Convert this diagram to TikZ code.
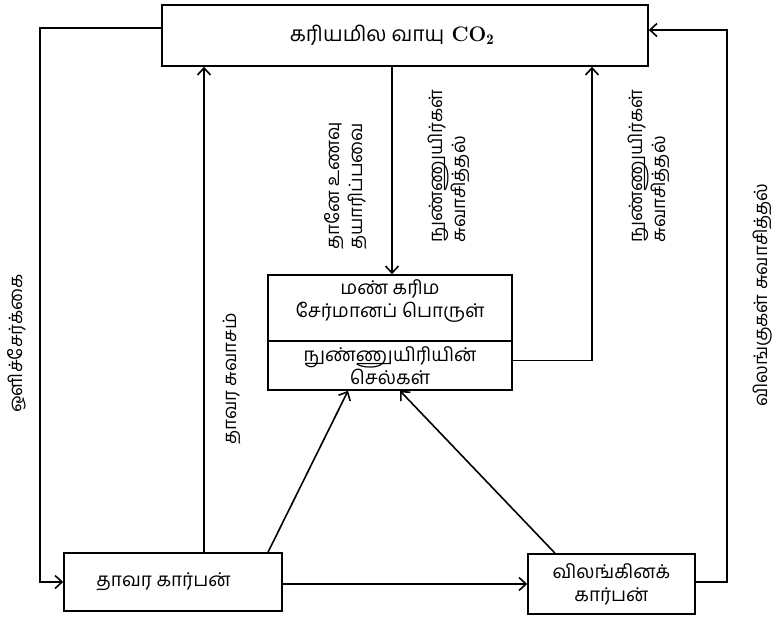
\documentclass[tikz,border=0pt]{standalone}
\usepackage{fontspec}
\newfontfamily\ta[Script=Tamil]{Hind Madurai}
\usetikzlibrary{arrows.meta}
\begin{document}
\begin{tikzpicture}[x=1pt,y=-1pt,
  box/.style={draw,line width=1.6pt,rectangle,inner sep=2pt,align=center,font=\ta\fontsize{19}{23}\selectfont},
  conn/.style={line width=1.6pt},
  arr/.style={conn,-{Straight Barb[length=7pt,width=13pt,line width=1.6pt]}},
  lbl/.style={rotate=90,anchor=west,inner sep=0pt,align=left,font=\ta\fontsize{18.5}{23}\selectfont}]
\useasboundingbox (0,0) rectangle (777,617);
\fill[white] (0,0) rectangle (777,617);
% nodes
\node[box,minimum width=486pt,minimum height=61pt,font=\ta\fontsize{21}{24}\selectfont] (top) at (405,35.5) {கரியமில வாயு \hspace{2pt}{\rmfamily\bfseries CO}$_{\mathbf 2}$\hspace{26pt}};
\node[box,minimum width=244pt,minimum height=66pt,text depth=18pt] (soil) at (390,308) {மண் கரிம\\சேர்மானப் பொருள்};
\node[box,minimum width=244pt,minimum height=49pt] (micro) at (390,365.5) {நுண்ணுயிரியின்\\செல்கள்};
\node[box,minimum width=218pt,minimum height=58pt] (plant) at (173,582) {தாவர கார்பன்\hspace{19pt}};
\node[box,minimum width=167pt,minimum height=60pt] (animal) at (611.5,584) {விலங்கினக்\\கார்பன்};
% connectors
\draw[arr] ([yshift=7.5pt]top.west) -| (40,582) -- (plant.west);
\draw[arr] ([xshift=31pt]plant.north) -- ([xshift=31pt]plant.north |- top.south);
\draw[arr] ([xshift=-13pt]top.south) -- ([xshift=-13pt]top.south |- soil.north);
\draw[arr] ([yshift=5pt]micro.east) -| ([xshift=187pt]top.south);
\draw[arr] ([yshift=2pt]animal.east) -| (727,30) -- ([yshift=5.5pt]top.east);
\draw[arr] ([yshift=-2pt]plant.east) -- ([yshift=-2pt]plant.east -| animal.west);
\draw[arr] ([xshift=95pt]plant.north) -- ([xshift=-42pt]micro.south);
\draw[arr] ([xshift=-56.5pt]animal.north) -- ([xshift=10pt]micro.south);
% labels
\node[lbl] (l1) at (17,413) {ஒளிச்சேர்க்கை};
\node[lbl] (l2) at (232,445) {தாவர சுவாசம்};
\node[lbl] (l3) at (346,250) {தானே உணவு\\தயாரிப்பவை};
\node[lbl] (l4) at (449,243) {நுண்ணுயிர்கள்\\சுவாசித்தல்};
\node[lbl] (l5) at (649,243) {நுண்ணுயிர்கள்\\சுவாசித்தல்};
\node[lbl] (l6) at (763,407) {விலங்குகள் சுவாசித்தல்};
\end{tikzpicture}
\end{document}
